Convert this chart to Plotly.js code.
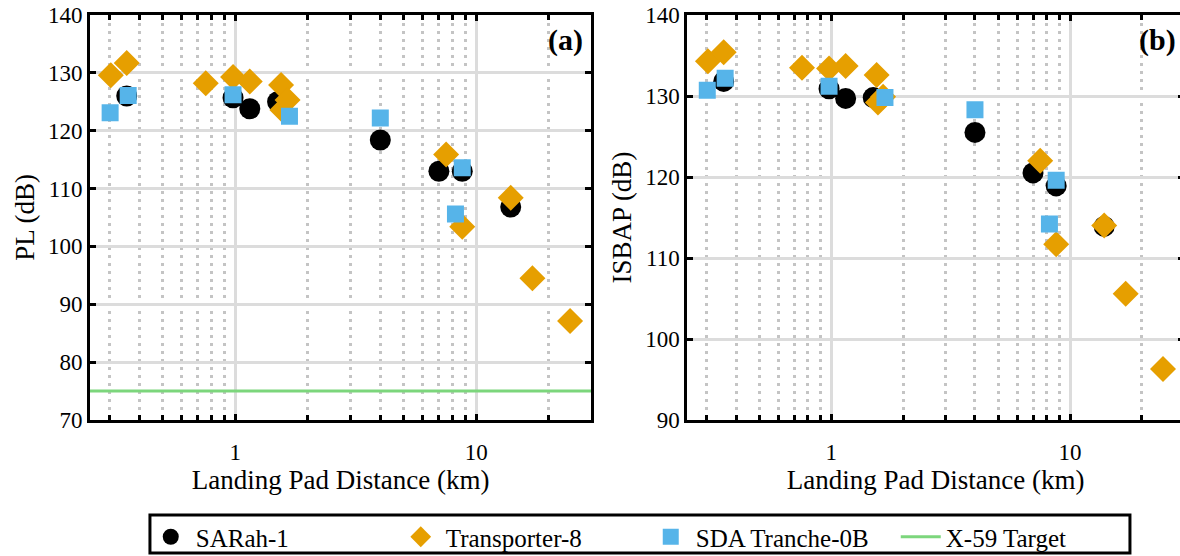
<!DOCTYPE html>
<html>
<head>
<meta charset="utf-8">
<script src="https://cdn.plot.ly/plotly-3.0.1.min.js"></script>
<style>
html, body { margin: 0; padding: 0; overflow: hidden; background: #fff; }
#chart { width: 1190px; height: 556px; }
</style>
</head>
<body>
<div id="chart"></div>
<script>
// Landing pad distance (km) per series
var sarahX = [0.355, 0.98, 1.15, 1.5, 4.0, 7.0, 8.75, 13.9];
var sarahPL = [126.0, 125.7, 123.8, 125.0, 118.4, 113.0, 113.0, 106.8];
var sarahISBAP = [131.8, 130.9, 129.7, 129.8, 125.5, 120.5, 118.9, 113.9];

var transX = [0.305, 0.355, 0.755, 0.98, 1.15, 1.55, 1.65, 1.57, 7.5, 8.75, 13.9, 17.1, 24.5];
var transPL = [129.6, 131.7, 128.2, 129.3, 128.5, 127.9, 125.3, 123.6, 115.9, 103.4, 108.4, 94.5, 87.1];
var transISBAP = [134.3, 135.4, 133.5, 133.4, 133.7, 132.6, 129.9, 129.2, 122.0, 111.7, 114.0, 105.6, 96.3];

var sdaX = [0.303, 0.36, 0.98, 1.68, 4.0, 8.2, 8.75];
var sdaPL = [123.1, 126.1, 126.2, 122.5, 122.2, 105.6, 113.6];
var sdaISBAP = [130.7, 132.2, 131.2, 129.8, 128.3, 114.2, 119.6];

var targetX = [0.25, 30];
var targetPL = [75, 75];

var seriesNames = ['SARah-1', 'Transporter-8', 'SDA Tranche-0B', 'X-59 Target'];
var majorTicks = [1, 10];
var majorText = ['1', '10'];
var minorTicks = [0.3, 0.4, 0.5, 0.6, 0.7, 0.8, 0.9, 2, 3, 4, 5, 6, 7, 8, 9, 20];
var plTicks = [70, 80, 90, 100, 110, 120, 130, 140];
var isbapTicks = [90, 100, 110, 120, 130, 140];

var FONT = 'Liberation Serif, Times New Roman, serif';
var cBlack = '#000000', cOrange = '#E69F00', cBlue = '#56B4E9', cGreen = '#7CD67C';

function circ(x, y, xa, ya, show) {
  return {x: x, y: y, xaxis: xa, yaxis: ya, type: 'scatter', mode: 'markers', name: seriesNames[0],
    showlegend: show, legendgroup: 's', legendrank: 1,
    marker: {symbol: 'circle', size: 21, color: cBlack, line: {width: 0}}};
}
function diam(x, y, xa, ya, show) {
  return {x: x, y: y, xaxis: xa, yaxis: ya, type: 'scatter', mode: 'markers', name: seriesNames[1],
    showlegend: show, legendgroup: 't', legendrank: 2,
    marker: {symbol: 'diamond', size: 20, color: cOrange, line: {width: 0}}};
}
function sq(x, y, xa, ya, show) {
  return {x: x, y: y, xaxis: xa, yaxis: ya, type: 'scatter', mode: 'markers', name: seriesNames[2],
    showlegend: show, legendgroup: 'q', legendrank: 3,
    marker: {symbol: 'square', size: 17, color: cBlue, line: {width: 0}}};
}

var data = [
  {x: targetX, y: targetPL, xaxis: 'x', yaxis: 'y', type: 'scatter', mode: 'lines', name: seriesNames[3],
    legendrank: 4, line: {color: cGreen, width: 3}},
  circ(sarahX, sarahPL, 'x', 'y', true),
  diam(transX, transPL, 'x', 'y', true),
  sq(sdaX, sdaPL, 'x', 'y', true),
  circ(sarahX, sarahISBAP, 'x2', 'y2', false),
  diam(transX, transISBAP, 'x2', 'y2', false),
  sq(sdaX, sdaISBAP, 'x2', 'y2', false)
];

function xaxis(domain, anchor) {
  return {
    type: 'log', domain: domain, anchor: anchor,
    range: [Math.log10(0.25), Math.log10(30)],
    tickmode: 'array', tickvals: majorTicks, ticktext: majorText,
    ticks: 'inside', ticklen: 6, tickwidth: 3, tickcolor: '#000',
    ticklabelstandoff: 9,
    showgrid: true, gridcolor: '#dcdcdc', gridwidth: 3,
    minor: {tickmode: 'array', tickvals: minorTicks, ticks: 'inside', ticklen: 5, tickwidth: 3, tickcolor: '#000',
      showgrid: true, gridcolor: '#c4c4c4', gridwidth: 3, griddash: '3px,5px'},
    showline: true, linecolor: '#000', linewidth: 3, mirror: 'ticks',
    zeroline: false,
    tickfont: {family: FONT, size: 23, color: '#000'},
    title: {text: 'Landing Pad Distance (km)', font: {family: FONT, size: 27, color: '#000'}, standoff: 7}
  };
}
function yaxis(range, ticks, title, anchor) {
  return {
    range: range, anchor: anchor, domain: [0, 1],
    tickmode: 'array', tickvals: ticks,
    ticks: 'inside', ticklen: 6, tickwidth: 3, tickcolor: '#000',
    showgrid: true, gridcolor: '#dcdcdc', gridwidth: 3,
    showline: true, linecolor: '#000', linewidth: 3, mirror: 'ticks',
    zeroline: false,
    tickfont: {family: FONT, size: 23, color: '#000'},
    title: {text: title, font: {family: FONT, size: 27, color: '#000'}, standoff: 6}
  };
}

var layout = {
  width: 1190, height: 556,
  margin: {l: 90, r: 6, t: 15, b: 136, autoexpand: false},
  paper_bgcolor: '#fff', plot_bgcolor: '#fff',
  font: {family: FONT, size: 23, color: '#000'},
  xaxis: xaxis([0, 0.4582], 'y'),
  yaxis: yaxis([70, 140], plTicks, 'PL (dB)', 'x'),
  xaxis2: xaxis([0.546, 1], 'y2'),
  yaxis2: yaxis([90, 140], isbapTicks, 'ISBAP (dB)', 'x2'),
  showlegend: true,
  legend: {
    orientation: 'h', x: 0.508, xanchor: 'center', y: -0.2321, yanchor: 'top',
    borderwidth: 0, bgcolor: 'rgba(0,0,0,0)',
    font: {family: FONT, size: 25, color: '#000'},
    traceorder: 'normal', entrywidth: 195, itemwidth: 40
  },
  shapes: [
    {type: 'rect', xref: 'paper', yref: 'paper', x0: 0.0548, x1: 0.9506, y0: -0.3284, y1: -0.2346,
      line: {color: '#000', width: 3}, fillcolor: 'rgba(0,0,0,0)', layer: 'above'}
  ],
  annotations: [
    {text: '<b>(a)</b>', xref: 'x domain', yref: 'y domain', x: 1, y: 1, xanchor: 'right', yanchor: 'top',
      xshift: -6, yshift: -6, showarrow: false, font: {family: FONT, size: 30, color: '#000'}},
    {text: '<b>(b)</b>', xref: 'x2 domain', yref: 'y2 domain', x: 1, y: 1, xanchor: 'right', yanchor: 'top',
      xshift: -6, yshift: -6, showarrow: false, font: {family: FONT, size: 30, color: '#000'}}
  ]
};

Plotly.newPlot('chart', data, layout, {displayModeBar: false, staticPlot: true});
</script>
</body>
</html>
